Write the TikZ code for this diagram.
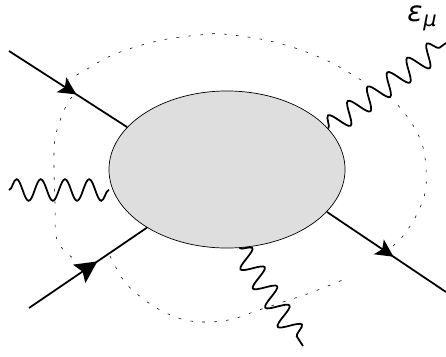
\documentclass[tikz,border=0pt]{standalone}
\usepackage{fontspec}
\setmainfont{DejaVu Sans}
\usetikzlibrary{arrows.meta,decorations.markings,decorations.pathmorphing,shapes.geometric}
\tikzset{
  leg/.style={line width=1.25pt},
  legtip/.style n args={2}{postaction={decorate},decoration={markings,
    mark=at position #1 with {\arrow{Stealth[length=#2,width=#2,inset=0.1cm]}}}},
  photon/.style={line width=1.25pt,decorate,decoration={snake,amplitude=0.27cm,
    segment length=#1,pre length=0pt,post length=0pt}},
  loopline/.style={line width=0.4pt,dash pattern=on 1.9pt off 6.6pt}
}
\begin{document}
\begin{tikzpicture}[x=0.025cm,y=-0.025cm]
\useasboundingbox (0,0) rectangle (446,356);
\draw[loopline] plot[smooth,tension=0.6] coordinates {(393,246) (403,236) (416,216) (425,193) (426,168) (422,144) (411,122) (396,103)};
\draw[loopline] plot[smooth,tension=0.6] coordinates {(361,80) (330,62) (295,48) (260,39) (223,34) (210,34) (162,40) (115,54) (82,72) (68,80)};
\draw[loopline] plot[smooth,tension=0.6] coordinates {(72,97) (66,106) (57,130) (54,153) (55,203) (57,240) (73,258)};
\draw[loopline] plot[smooth,tension=0.6] coordinates {(110,256) (124,281) (142,298) (162,311) (185,320) (210,322) (233,319) (256,311) (286,301) (310,293) (345,279)};
\node[ellipse,draw,fill=black!13,line width=0.5pt,inner sep=0pt,minimum width=5.9cm,minimum height=3.925cm] (blob) at (227,169.5) {};
\coordinate (inA) at (9,51);
\coordinate (inB) at (29,308);
\coordinate (outC) at (446,292);
\coordinate (phL) at (9,190);
\coordinate (phLe) at (109,190);
\coordinate (phR) at (446,43);
\coordinate (phB) at (303,346);
\draw[leg,legtip={0.57}{0.44cm}] (inA) -- (blob.157.7);
\draw[leg,legtip={0.58}{0.55cm}] (inB) -- (blob.216.5);
\draw[leg,legtip={0.56}{0.44cm}] (blob.-23) -- (outC);
\draw[photon=0.605cm] (phL) -- (phLe);
\draw[photon=0.611cm] (blob.22.2) -- (phR);
\draw[photon=0.57cm] (blob.-81) -- (phB);
\node[font=\fontsize{20}{20}\selectfont\itshape,inner sep=0pt] (pol) at (415,14) {ε};
\node[font=\fontsize{15}{15}\selectfont\itshape,inner sep=0pt] (polidx) at (430,23) {μ};
\end{tikzpicture}
\end{document}
